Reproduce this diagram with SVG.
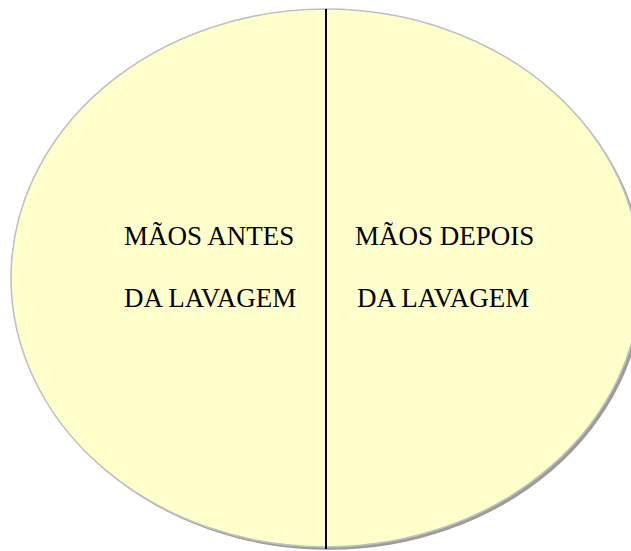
<svg xmlns="http://www.w3.org/2000/svg" width="631" height="551" viewBox="0 0 631 551">
  <defs>
    <filter id="blur" x="-5%" y="-5%" width="110%" height="110%">
      <feGaussianBlur stdDeviation="0.7"/>
    </filter>
  </defs>
  <style>
    .lbl { font-family: "Liberation Serif", "Times New Roman", serif; font-size: 27px; fill: #000000; }
  </style>
  <rect width="631" height="551" fill="#ffffff"/>
  <g id="oval">
    <ellipse cx="328.8" cy="280.8" rx="315" ry="269" fill="#9c9c9c" filter="url(#blur)"/>
    <ellipse cx="326" cy="278" rx="315" ry="269" fill="#ffffcc" stroke="#c0c0c0" stroke-width="1.6"/>
  </g>
  <g id="connectors">
    <line x1="326" y1="9" x2="326" y2="549" stroke="#000000" stroke-width="2"/>
  </g>
  <g id="left-label">
    <text class="lbl" x="124" y="245">MÃOS ANTES</text>
    <text class="lbl" x="124" y="307">DA LAVAGEM</text>
  </g>
  <g id="right-label">
    <text class="lbl" x="355" y="245">MÃOS DEPOIS</text>
    <text class="lbl" x="357" y="307">DA LAVAGEM</text>
  </g>
</svg>
